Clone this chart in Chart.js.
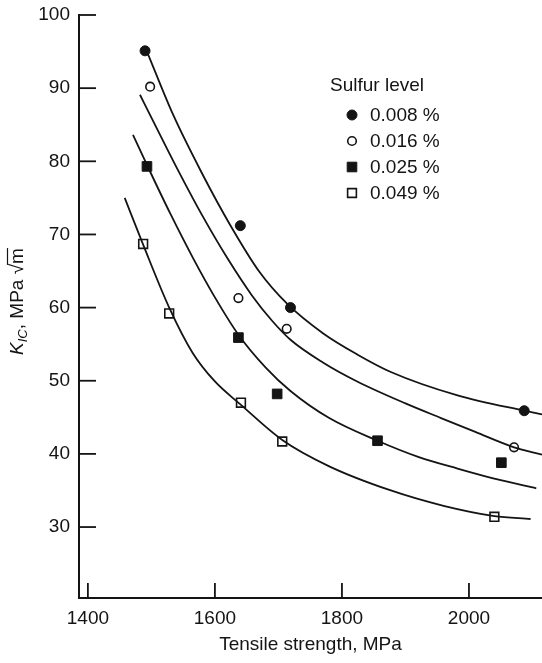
<!DOCTYPE html>
<html lang="en">
<head>
<meta charset="UTF-8">
<title>Fracture toughness vs tensile strength</title>
<style>
    body { margin: 0; padding: 0; background: #ffffff; overflow: hidden; }
    #wrap { width: 542px; height: 663px; position: relative; }
</style>
<script src="https://cdn.jsdelivr.net/npm/chart.js"></script>
</head>
<body>
<div id="wrap"><canvas id="myCanvas"></canvas></div>
<script>
// measured points, one pair of arrays per sulfur level
const sulfurLevels = ['0.008 %', '0.016 %', '0.025 %', '0.049 %'];

const strength008 = [1490, 1640, 1719, 2087];
const kic008 = [95.1, 71.2, 60.0, 45.9];
const strength016 = [1498, 1637, 1713, 2071];
const kic016 = [90.2, 61.3, 57.1, 40.9];
const strength025 = [1493, 1637, 1698, 1856, 2051];
const kic025 = [79.3, 55.9, 48.2, 41.8, 38.8];
const strength049 = [1487, 1528, 1641, 1706, 2040];
const kic049 = [68.7, 59.2, 47.0, 41.7, 31.4];

// fitted curves
const fitX008 = [1493, 1534, 1580, 1624, 1670, 1714, 1770, 1824, 1877, 1982, 2087, 2115];
const fitY008 = [95.0, 86.4, 78.3, 71.3, 64.9, 60.5, 56.5, 53.6, 51.2, 48.0, 45.9, 45.4];
const fitX016 = [1482, 1501, 1540, 1580, 1620, 1658, 1690, 1719, 1770, 1824, 1900, 1956, 2010, 2071, 2115];
const fitY016 = [89.1, 85.8, 79.1, 72.6, 66.7, 61.7, 58.2, 55.6, 52.5, 49.9, 46.9, 44.9, 43.0, 40.9, 39.9];
const fitX025 = [1471, 1493, 1530, 1566, 1600, 1637, 1680, 1719, 1780, 1856, 1920, 1982, 2050, 2106];
const fitY025 = [83.6, 79.5, 72.8, 66.7, 61.4, 56.3, 51.8, 48.6, 44.9, 41.8, 39.6, 38.0, 36.4, 35.3];
const fitX049 = [1458, 1487, 1528, 1565, 1600, 1641, 1706, 1780, 1877, 1960, 2040, 2097];
const fitY049 = [75.0, 68.6, 60.0, 53.8, 49.9, 46.7, 41.9, 38.3, 35.0, 32.9, 31.5, 31.1];

const xTicks = [1400, 1600, 1800, 2000];
const yTicks = [30, 40, 50, 60, 70, 80, 90, 100];

const ink = '#141414';
const fontFamily = "'Liberation Sans', Arial, sans-serif";

function pairs(xs, ys) {
    return xs.map((x, i) => ({ x: x, y: ys[i] }));
}

const markerStyles = [
    { pointStyle: 'circle', pointRadius: 5, pointBackgroundColor: ink, pointBorderColor: ink, pointBorderWidth: 1 },
    { pointStyle: 'circle', pointRadius: 4.3, pointBackgroundColor: '#ffffff', pointBorderColor: ink, pointBorderWidth: 1.6 },
    { pointStyle: 'rect', pointRadius: 6.8, pointBackgroundColor: ink, pointBorderColor: ink, pointBorderWidth: 1 },
    { pointStyle: 'rect', pointRadius: 6.2, pointBackgroundColor: '#ffffff', pointBorderColor: ink, pointBorderWidth: 1.6 }
];

const pointSets = [pairs(strength008, kic008), pairs(strength016, kic016), pairs(strength025, kic025), pairs(strength049, kic049)];
const fitSets = [pairs(fitX008, fitY008), pairs(fitX016, fitY016), pairs(fitX025, fitY025), pairs(fitX049, fitY049)];

const datasets = [];
fitSets.forEach((d) => {
    datasets.push({
        data: d,
        showLine: true,
        borderColor: ink,
        borderWidth: 1.8,
        pointRadius: 0,
        cubicInterpolationMode: 'monotone',
        fill: false
    });
});
pointSets.forEach((d, i) => {
    datasets.push(Object.assign({
        label: sulfurLevels[i],
        data: d,
        showLine: false
    }, markerStyles[i]));
});

// tick marks point inwards in the figure
const innerTicks = {
    id: 'innerTicks',
    afterDraw(chart) {
        const ctx = chart.ctx;
        const xs = chart.scales.x, ys = chart.scales.y;
        const area = chart.chartArea;
        ctx.save();
        ctx.strokeStyle = ink;
        ctx.lineWidth = 1.8;
        yTicks.forEach(v => {
            const y = ys.getPixelForValue(v);
            ctx.beginPath();
            ctx.moveTo(area.left, y);
            ctx.lineTo(area.left + 17, y);
            ctx.stroke();
        });
        xTicks.forEach(v => {
            const x = xs.getPixelForValue(v);
            ctx.beginPath();
            ctx.moveTo(x, area.bottom);
            ctx.lineTo(x, area.bottom - 15);
            ctx.stroke();
        });
        ctx.restore();
    }
};

function drawMarker(ctx, s, x, y) {
    ctx.save();
    ctx.fillStyle = s.pointBackgroundColor;
    ctx.strokeStyle = s.pointBorderColor;
    ctx.lineWidth = s.pointBorderWidth;
    ctx.beginPath();
    if (s.pointStyle === 'circle') {
        ctx.arc(x, y, s.pointRadius, 0, Math.PI * 2);
    } else {
        const h = s.pointRadius * Math.SQRT1_2;
        ctx.rect(x - h, y - h, h * 2, h * 2);
    }
    ctx.fill();
    ctx.stroke();
    ctx.restore();
}

// legend block "Sulfur level" inside the plot
const sulfurLegend = {
    id: 'sulfurLegend',
    afterDraw(chart) {
        const ctx = chart.ctx;
        const area = chart.chartArea;
        const left = area.left + 251;
        const top = area.top + 71;
        ctx.save();
        ctx.fillStyle = ink;
        ctx.font = '19px ' + fontFamily;
        ctx.textBaseline = 'middle';
        ctx.textAlign = 'left';
        ctx.fillText('Sulfur level', left, top);
        sulfurLevels.forEach((lab, i) => {
            const y = top + 29 + 26 * i;
            drawMarker(ctx, markerStyles[i], left + 22, y);
            ctx.fillStyle = ink;
            ctx.fillText(lab, left + 40, y + 1);
        });
        ctx.restore();
    }
};

// y title with italic subscript and root sign
const yTitle = {
    id: 'yTitle',
    afterDraw(chart) {
        const ctx = chart.ctx;
        const area = chart.chartArea;
        const cy = (area.top + area.bottom) / 2 - 5;
        const big = '19px ' + fontFamily;
        const bigIt = 'italic 19px ' + fontFamily;
        const small = 'italic 13px ' + fontFamily;
        const parts = [
            { t: 'K', f: bigIt, dy: 0 },
            { t: 'IC', f: small, dy: 4 },
            { t: ', MPa ', f: big, dy: 0 },
            { t: '\u221A', f: big, dy: 0 },
            { t: 'm', f: big, dy: 0, bar: true }
        ];
        ctx.save();
        let total = 0;
        parts.forEach(p => { ctx.font = p.f; p.w = ctx.measureText(p.t).width; total += p.w; });
        ctx.translate(area.left - 63, cy);
        ctx.rotate(-Math.PI / 2);
        ctx.fillStyle = ink;
        ctx.strokeStyle = ink;
        ctx.textBaseline = 'alphabetic';
        let x = -total / 2;
        parts.forEach(p => {
            ctx.font = p.f;
            ctx.fillText(p.t, x, 7 + p.dy);
            if (p.bar) {
                ctx.lineWidth = 1.2;
                ctx.beginPath();
                ctx.moveTo(x - 1, -8.5);
                ctx.lineTo(x + p.w, -8.5);
                ctx.stroke();
            }
            x += p.w;
        });
        ctx.restore();
    }
};

const ctx = document.getElementById('myCanvas').getContext('2d');
const chart = new Chart(ctx, {
    type: 'scatter',
    data: { datasets: datasets },
    options: {
        responsive: true,
        maintainAspectRatio: false,
        animation: false,
        layout: { autoPadding: false, padding: { top: 15, right: 0, bottom: 0, left: 0 } },
        plugins: {
            legend: { display: false },
            tooltip: { enabled: false }
        },
        scales: {
            x: {
                type: 'linear',
                min: 1386,
                max: 2115,
                afterBuildTicks: (scale) => { scale.ticks = xTicks.map(v => ({ value: v })); },
                afterFit: (scale) => {
                    scale.height = 65;
                    scale.paddingLeft = 0;
                    scale.paddingRight = 0;
                },
                grid: { display: true, drawOnChartArea: false, drawTicks: false },
                border: { display: true, color: ink, width: 2 },
                ticks: {
                    color: ink,
                    padding: 9,
                    maxRotation: 0,
                    font: { size: 19, family: fontFamily },
                    callback: (v) => String(v)
                },
                title: {
                    display: true,
                    text: 'Tensile strength, MPa',
                    color: ink,
                    padding: 7,
                    font: { size: 19, family: fontFamily }
                }
            },
            y: {
                type: 'linear',
                min: 20.3,
                max: 100,
                afterBuildTicks: (scale) => { scale.ticks = yTicks.map(v => ({ value: v })); },
                afterFit: (scale) => {
                    scale.width = 79;
                    scale.paddingTop = 0;
                    scale.paddingBottom = 0;
                },
                grid: { display: true, drawOnChartArea: false, drawTicks: false },
                border: { display: true, color: ink, width: 2 },
                ticks: {
                    color: ink,
                    padding: 9,
                    font: { size: 19, family: fontFamily },
                    callback: (v) => String(v)
                }
            }
        }
    },
    plugins: [innerTicks, sulfurLegend, yTitle]
});
</script>
</body>
</html>
